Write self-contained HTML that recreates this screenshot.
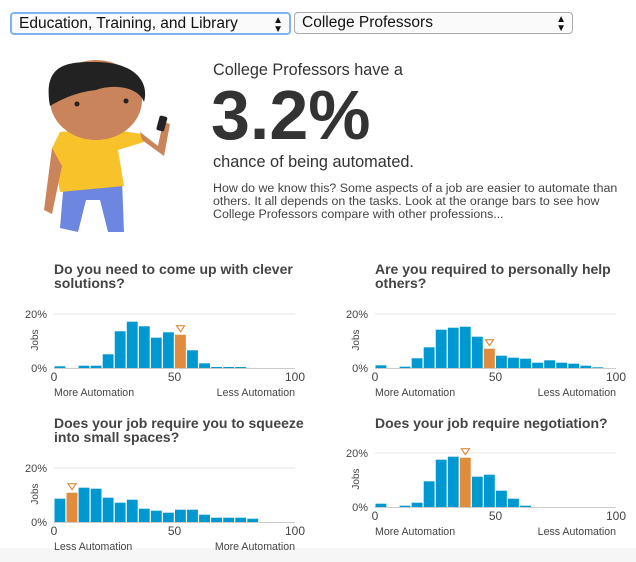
<!DOCTYPE html>
<html><head><meta charset="utf-8"><style>
html,body{margin:0;padding:0;background:#fff;}
body{width:636px;height:562px;overflow:hidden;position:relative;font-family:"Liberation Sans",sans-serif;}
.sel{position:absolute;top:13px;height:20px;border:1px solid #aaa;border-radius:4px;background:#fafafa;font-size:15.5px;line-height:20px;padding-left:7px;box-sizing:border-box;color:#111;}
.arr{position:absolute;right:6px;top:0;font-size:10px;line-height:9px;}
</style></head><body>
<div class="sel" style="left:10px;width:281px;border:2px solid #7fb3f0;height:23px;top:12px;line-height:19px;">Education, Training, and Library<div class="arr" style="top:2px">▲<br>▼</div></div>
<div class="sel" style="left:294px;width:279px;height:22px;line-height:20px;top:12px;">College Professors<div class="arr" style="top:2px">▲<br>▼</div></div>
<div style="position:absolute;left:0;top:548px;width:636px;height:14px;background:#f6f6f6"></div>
<svg width="636" height="562" style="position:absolute;left:0;top:0" font-family="Liberation Sans, sans-serif">
<g>
<path d="M64 180 L60 228 L78 232 L86 200 L100 200 L108 232 L124 232 L122 180 Z" fill="#6d86e0"/>
<path d="M52 148 L60 192 L124 186 L118 150 L144 142 L142 134 L100 128 L60 132 Z" fill="#f8c22a"/>
<path d="M52 148 L44 210 L52 214 L62 166 Z" fill="#c9845c"/>
<path d="M142 140 L164 156 L170 124 L163 122 L158 146 L140 132 Z" fill="#c9845c"/>
<rect x="158" y="116" width="8" height="15" rx="2" fill="#222" transform="rotate(15 162 123)"/>
<rect x="88" y="118" width="16" height="16" fill="#c9845c"/>
<ellipse cx="96" cy="100" rx="46" ry="40" fill="#c9845c"/>
<path d="M50 106 C42 62 70 62 96 62 C132 62 150 80 144 102 C138 86 112 84 96 90 C76 92 60 100 50 106 Z" fill="#222"/>
<circle cx="77" cy="104" r="2.5" fill="#222"/><circle cx="126" cy="101" r="2.5" fill="#222"/>
</g>
<text x="213" y="75" font-size="16.2" fill="#333">College Professors have a</text>
<text x="211" y="139" font-size="70" font-weight="bold" fill="#333">3.2%</text>
<text x="213" y="167" font-size="16.3" fill="#333">chance of being automated.</text>
<text font-size="12.4" fill="#444"><tspan x="213" y="192">How do we know this? Some aspects of a job are easier to automate than</tspan><tspan x="213" y="205">others. It all depends on the tasks. Look at the orange bars to see how</tspan><tspan x="213" y="218">College Professors compare with other professions...</tspan></text>
<g id="charts" font-size="10" fill="#444"></g>
</svg>
<script>
var g=document.getElementById('charts'),NS='http://www.w3.org/2000/svg';
function el(t,a,txt){var e=document.createElementNS(NS,t);for(var k in a)e.setAttribute(k,a[k]);if(txt)e.textContent=txt;g.appendChild(e);return e;}
function chart(x0,base,titles,ty,h,orange,l,r){
 var W=241,bw=W/20;
 titles.forEach(function(t,i){el('text',{x:x0,y:ty+i*14,'font-size':14,'font-weight':'bold',fill:'#444'},t);});
 el('line',{x1:x0,x2:x0+W,y1:base-54,y2:base-54,stroke:'#e6e6e6','stroke-width':1});
 el('line',{x1:x0,x2:x0+W,y1:base+0.5,y2:base+0.5,stroke:'#ccc','stroke-width':1});
 h.forEach(function(v,i){if(v>0)el('rect',{x:x0+i*bw+0.5,y:base-v,width:bw-1.2,height:v,fill:i==orange?'#e08c3c':'#0098d0'});});
 var ox=x0+orange*bw+bw/2,oy=base-h[orange]-9;
 el('path',{d:'M'+(ox-4)+' '+oy+' L'+(ox+4)+' '+oy+' L'+ox+' '+(oy+6)+' Z',fill:'none',stroke:'#e08c3c','stroke-width':1.2});
 el('text',{x:x0-7,y:base-50,'text-anchor':'end','font-size':11},'20%');
 el('text',{x:x0-7,y:base+4,'text-anchor':'end','font-size':11},'0%');
 el('text',{x:0,y:0,transform:'translate('+(x0-16)+','+(base-28)+') rotate(-90)','text-anchor':'middle','font-size':10},'Jobs');
 el('text',{x:x0,y:base+13,'text-anchor':'middle','font-size':12},'0');
 el('text',{x:x0+W/2,y:base+13,'text-anchor':'middle','font-size':12},'50');
 el('text',{x:x0+W,y:base+13,'text-anchor':'middle','font-size':12},'100');
 el('text',{x:x0,y:base+28,'font-size':10.6},l);
 el('text',{x:x0+W,y:base+28,'text-anchor':'end','font-size':10.6},r);
}
chart(54,368,['Do you need to come up with clever','solutions?'],274,[1.7,0,2.3,2.3,13.7,36.7,46.3,41.7,30.3,35.7,33.3,17.7,4.7,1,1,1,0,0,0,0],10,'More Automation','Less Automation');
chart(375,368,['Are you required to personally help','others?'],274,[2.7,0,1.3,9.7,20.7,38.3,40.3,41.3,31.3,19.3,12.3,10.3,9.3,5.3,7.7,5.3,4.3,2.3,0.7,0],9,'More Automation','Less Automation');
chart(54,522,['Does your job require you to squeeze','into small spaces?'],428,[23.3,29.3,34.3,33.3,24.3,19.3,22.3,13.3,11.3,9.3,12.3,12.3,7.3,4.3,4.3,4.3,3.3,0,0,0],1,'Less Automation','More Automation');
chart(375,507,['Does your job require negotiation?'],428,[3.3,0,1.3,4.3,25.7,47.3,50.3,49.3,30.3,32.3,16.3,8.3,1.3,0,0,0,0,0,0,0],7,'More Automation','Less Automation');
</script>
</body></html>
